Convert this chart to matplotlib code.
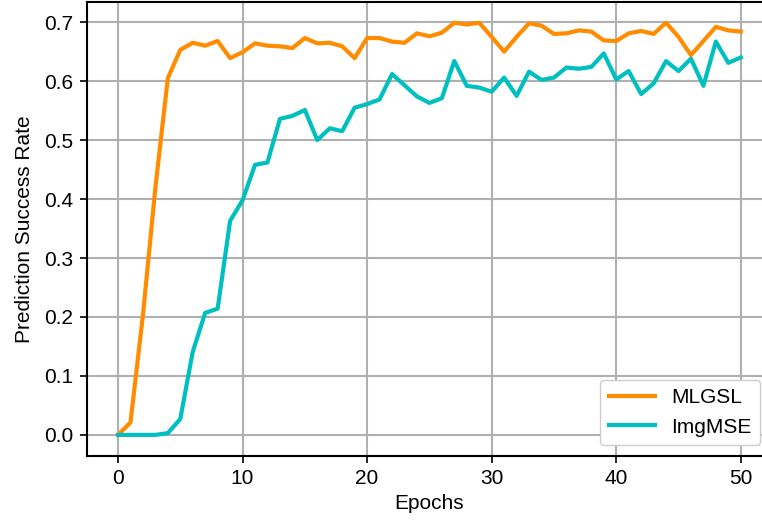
import matplotlib
matplotlib.use('Agg')
import matplotlib.pyplot as plt

plt.rcParams['font.family'] = ['Liberation Sans', 'DejaVu Sans']

# данные по эпохам
epochs = list(range(51))
mlgsl = [0.000, 0.021, 0.203, 0.419, 0.605, 0.653, 0.665, 0.660, 0.668, 0.639,
         0.649, 0.664, 0.660, 0.659, 0.656, 0.673, 0.664, 0.665, 0.659, 0.639,
         0.673, 0.673, 0.667, 0.665, 0.681, 0.676, 0.682, 0.699, 0.696, 0.699,
         0.675, 0.650, 0.675, 0.698, 0.694, 0.680, 0.681, 0.686, 0.684, 0.669,
         0.668, 0.681, 0.685, 0.680, 0.699, 0.675, 0.644, 0.668, 0.692, 0.686,
         0.684]
imgmse = [0.000, 0.000, 0.000, 0.000, 0.003, 0.027, 0.141, 0.207, 0.214, 0.363,
          0.398, 0.458, 0.462, 0.536, 0.541, 0.551, 0.500, 0.520, 0.515, 0.555,
          0.561, 0.569, 0.612, 0.593, 0.574, 0.563, 0.571, 0.634, 0.592, 0.589,
          0.582, 0.606, 0.575, 0.616, 0.602, 0.606, 0.623, 0.621, 0.624, 0.647,
          0.603, 0.617, 0.578, 0.596, 0.634, 0.617, 0.638, 0.592, 0.667, 0.631,
          0.640]

fig = plt.figure(figsize=(7.62, 5.23), dpi=100)
# оси чуть вылезают за правый край, как в оригинале
ax = fig.add_axes([0.114, 0.129, 0.899, 0.867])

ax.plot(epochs, mlgsl, color='darkorange', linewidth=3, label='MLGSL')
ax.plot(epochs, imgmse, color='#00bfbf', linewidth=3, label='ImgMSE')

ax.set_xlim(-2.5, 52.5)
ax.set_ylim(-0.035, 0.734)
ax.set_xticks([0, 10, 20, 30, 40, 50])
ax.set_yticks([0.0, 0.1, 0.2, 0.3, 0.4, 0.5, 0.6, 0.7])
ax.set_yticklabels(['0.0', '0.1', '0.2', '0.3', '0.4', '0.5', '0.6', '0.7'])
ax.grid(True, color='#b0b0b0', linewidth=1.5)
ax.set_axisbelow(True)
ax.tick_params(labelsize=15, length=5, width=1.2, pad=5)
for s in ax.spines.values():
    s.set_linewidth(1.5)

ax.set_xlabel('Epochs', fontsize=15, labelpad=4)
ax.set_ylabel('Prediction Success Rate', fontsize=15, labelpad=7)

ax.legend(loc='lower right', bbox_to_anchor=(760 / 762, 78 / 523),
          bbox_transform=fig.transFigure, borderaxespad=0, fontsize=15,
          handlelength=2.2, framealpha=1, edgecolor='#cccccc')

fig.savefig('out.png', dpi=100)
